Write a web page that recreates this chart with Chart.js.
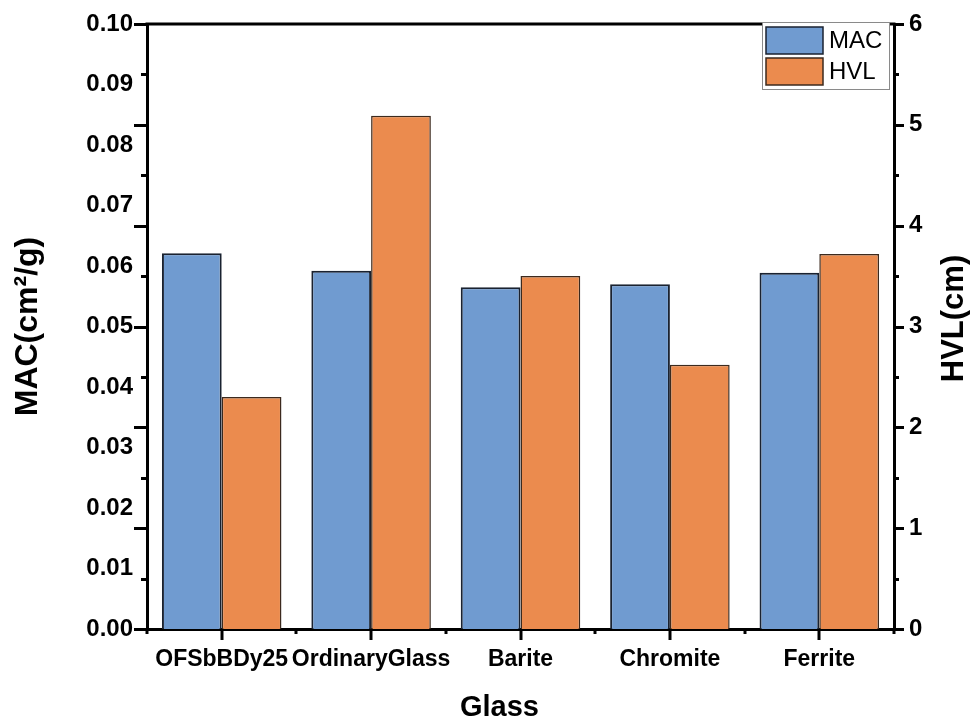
<!DOCTYPE html>
<html>
<head>
<meta charset="utf-8">
<title>MAC and HVL by glass type</title>
<script src="https://cdn.jsdelivr.net/npm/chart.js@4.4.1/dist/chart.umd.min.js"></script>
<style>
  html, body { margin: 0; padding: 0; background: #ffffff; }
  #wrap { width: 971px; height: 724px; }
</style>
</head>
<body>
<div id="wrap"><canvas id="chart" width="971" height="724"></canvas></div>
<script>
// Glass types on the category axis
const categories = ['OFSbBDy25', 'OrdinaryGlass', 'Barite', 'Chromite', 'Ferrite'];
// Mass attenuation coefficient, cm²/g (left axis)
const macValues = [0.0621, 0.0592, 0.0565, 0.0570, 0.0589];
// Half value layer, cm (right axis)
const hvlValues = [2.30, 5.09, 3.50, 2.62, 3.72];
// Axis ranges and tick steps
const macTicks = { min: 0, max: 0.10, step: 0.01 };
const hvlTicks = { min: 0, max: 6, step: 1, minorStep: 0.5 };
// Axis titles
const xTitle = 'Glass';
const yTitle = 'MAC(cm²/g)';
const y1Title = 'HVL(cm)';

const FONT = 'Liberation Sans, Arial, Helvetica, sans-serif';
const BLUE = '#709BD0';
const ORANGE = '#EB8B4E';

// Frame line on top, outward tick marks (major + minor), titles and a boxed legend
const framePlugin = {
  id: 'framePlugin',
  afterDraw(chart) {
    const { ctx, chartArea: a, scales, width, height } = chart;
    const yR = scales.y1, x = scales.x;
    ctx.save();
    ctx.strokeStyle = '#000';
    ctx.lineWidth = 3;
    ctx.lineCap = 'butt';

    // top edge of the frame
    ctx.beginPath();
    ctx.moveTo(a.left - 1.5, a.top);
    ctx.lineTo(a.right + 1.5, a.top);
    ctx.stroke();

    // vertical tick marks on both side axes, following the HVL scale
    for (let v = hvlTicks.min; v <= hvlTicks.max + 1e-9; v += hvlTicks.minorStep) {
      const py = Math.round(yR.getPixelForValue(v)) + 0.5;
      const major = Math.abs(v - Math.round(v)) < 1e-9;
      ctx.beginPath();
      ctx.moveTo(a.left, py);
      ctx.lineTo(a.left - (major ? 13 : 6), py);
      ctx.moveTo(a.right, py);
      ctx.lineTo(a.right + (major ? 10 : 5), py);
      ctx.stroke();
    }

    // category axis: major marks at centres, minor marks at boundaries
    const n = categories.length;
    for (let i = -0.5; i <= n - 0.5 + 1e-9; i += 0.5) {
      const px = Math.round(x.getPixelForValue(i));
      const major = Math.abs(i - Math.round(i)) < 1e-9;
      ctx.beginPath();
      ctx.moveTo(px, a.bottom);
      ctx.lineTo(px, a.bottom + (major ? 11 : 5));
      ctx.stroke();
    }

    // axis titles
    ctx.fillStyle = '#000';
    ctx.textAlign = 'center';
    ctx.textBaseline = 'middle';
    ctx.font = 'bold 29px ' + FONT;
    ctx.fillText(xTitle, width / 2 + 14, height - 16);
    ctx.font = 'bold 31px ' + FONT;
    ctx.save();
    ctx.translate(width - 17, (a.top + a.bottom) / 2 - 8);
    ctx.rotate(-Math.PI / 2);
    ctx.fillText(y1Title, 0, 0);
    ctx.restore();

    // legend box
    const bx = a.right - 132, by = a.top - 2, bw = 127, bh = 67;
    ctx.fillStyle = '#fff';
    ctx.fillRect(bx, by, bw, bh);
    ctx.lineWidth = 1;
    ctx.strokeStyle = '#8a8a8a';
    ctx.strokeRect(bx + 0.5, by + 0.5, bw, bh);
    chart.data.datasets.forEach((ds, k) => {
      const sy = by + 5 + k * 31;
      ctx.fillStyle = ds.backgroundColor;
      ctx.fillRect(bx + 4, sy, 57, 27);
      ctx.strokeStyle = ds.borderColor;
      ctx.lineWidth = 1.5;
      ctx.strokeRect(bx + 4, sy, 57, 27);
      ctx.fillStyle = '#000';
      ctx.font = '24px ' + FONT;
      ctx.textBaseline = 'middle';
      ctx.textAlign = 'left';
      ctx.fillText(ds.label, bx + 67, sy + 14);
    });
    ctx.restore();
  }
};

new Chart(document.getElementById('chart'), {
  type: 'bar',
  data: {
    labels: categories,
    datasets: [
      {
        label: 'MAC',
        data: macValues,
        yAxisID: 'y',
        backgroundColor: BLUE,
        borderColor: '#1a2230',
        borderWidth: 2,
        categoryPercentage: 0.8,
        barPercentage: 1.0
      },
      {
        label: 'HVL',
        data: hvlValues,
        yAxisID: 'y1',
        backgroundColor: ORANGE,
        borderColor: '#3c2a1e',
        borderWidth: 1.5,
        categoryPercentage: 0.8,
        barPercentage: 1.0
      }
    ]
  },
  options: {
    responsive: false,
    animation: false,
    devicePixelRatio: 1,
    layout: { padding: { top: 24, left: 0, right: 0, bottom: 0 } },
    plugins: {
      legend: { display: false },
      tooltip: { enabled: false }
    },
    scales: {
      x: {
        type: 'category',
        position: 'bottom',
        grid: { display: false },
        border: { display: true, color: '#000', width: 3 },
        ticks: {
          color: '#000',
          font: { family: FONT, size: 23, weight: 'bold' },
          padding: 9,
          maxRotation: 0,
          autoSkip: false
        },
        title: { display: false, text: xTitle },
        afterFit(scale) { scale.height = 95; }
      },
      y: {
        type: 'linear',
        position: 'left',
        min: macTicks.min,
        max: macTicks.max,
        grid: { display: false },
        border: { display: true, color: '#000', width: 3 },
        ticks: {
          stepSize: macTicks.step,
          color: '#000',
          font: { family: FONT, size: 24, weight: 'bold' },
          padding: 6,
          callback: v => Number(v).toFixed(2)
        },
        title: {
          display: true,
          text: yTitle,
          color: '#000',
          font: { family: FONT, size: 32, weight: 'bold', lineHeight: 1 },
          padding: { top: 12, bottom: 0 }
        },
        afterFit(scale) { scale.width = 147; }
      },
      y1: {
        type: 'linear',
        position: 'right',
        min: hvlTicks.min,
        max: hvlTicks.max,
        grid: { display: false },
        border: { display: true, color: '#000', width: 3 },
        ticks: {
          stepSize: hvlTicks.step,
          color: '#000',
          font: { family: FONT, size: 24, weight: 'bold' },
          padding: 7
        },
        title: { display: false, text: y1Title },
        afterFit(scale) { scale.width = 77; }
      }
    }
  },
  plugins: [framePlugin]
});
</script>
</body>
</html>
